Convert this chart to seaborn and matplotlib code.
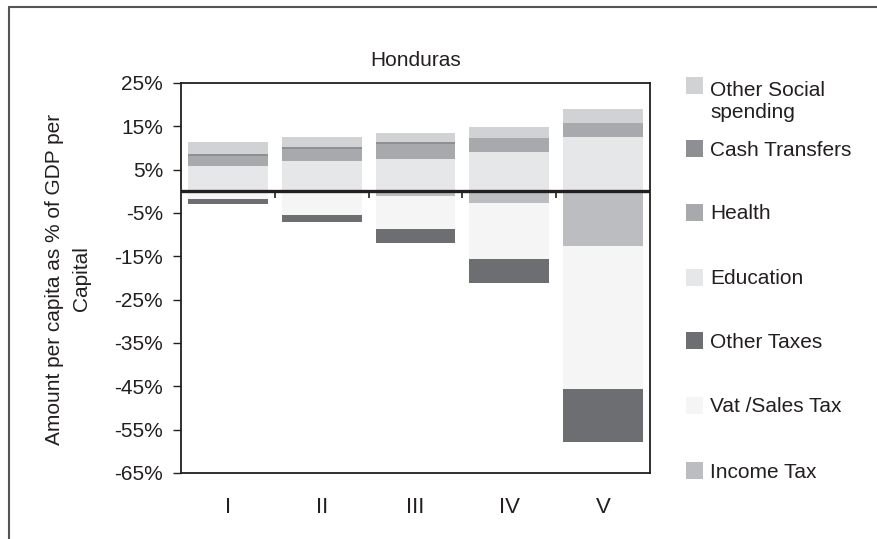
import numpy as np
import pandas as pd
import matplotlib
matplotlib.use("Agg")
import matplotlib.pyplot as plt
import seaborn as sns
from matplotlib.patches import Rectangle
from matplotlib.lines import Line2D

# ---- data (percent of GDP per capita) ----
categories = ["I", "II", "III", "IV", "V"]
education = [5.9, 6.9, 7.4, 9.0, 12.5]
health = [2.2, 2.85, 3.45, 3.2, 3.2]
cash_transfers = [0.45, 0.4, 0.45, 0.0, 0.0]
other_social = [2.8, 2.3, 2.1, 2.55, 3.2]
income_tax = [0.0, -0.3, -1.15, -2.8, -12.5]
vat_sales = [-1.85, -5.1, -7.6, -12.9, -33.0]
other_taxes = [-1.15, -1.6, -3.2, -5.5, -12.4]
yticks = list(range(-65, 26, 10))

colors = {
    "Other Social\nspending": "#d1d2d4",
    "Cash Transfers": "#8e8f92",
    "Health": "#a8a9ac",
    "Education": "#e6e7e8",
    "Other Taxes": "#6d6e71",
    "Vat /Sales Tax": "#f5f5f5",
    "Income Tax": "#bcbdc0",
}

sns.set_theme(style="white")
plt.rcParams["font.family"] = ["Liberation Sans", "DejaVu Sans"]
FS = 15

W, H = 878, 539
fig = plt.figure(figsize=(W / 100, H / 100), dpi=100)
ax = fig.add_axes([181 / W, 1 - 473 / H, (650 - 181) / W, (473 - 83) / H])

df = pd.DataFrame({
    "cat": categories,
    "Education": education,
    "Health": health,
    "Cash Transfers": cash_transfers,
    "Other Social\nspending": other_social,
    "Income Tax": income_tax,
    "Vat /Sales Tax": vat_sales,
    "Other Taxes": other_taxes,
})

pos_layers = ["Education", "Health", "Cash Transfers", "Other Social\nspending"]
neg_layers = ["Income Tax", "Vat /Sales Tax", "Other Taxes"]

bottom = np.zeros(len(categories))
for name in pos_layers:
    sns.barplot(data=df, x="cat", y=name, bottom=bottom, color=colors[name],
                saturation=1, width=0.85, errorbar=None, linewidth=0, ax=ax)
    bottom = bottom + df[name].to_numpy()

bottom = np.zeros(len(categories))
for name in neg_layers:
    sns.barplot(data=df, x="cat", y=name, bottom=bottom, color=colors[name],
                saturation=1, width=0.85, errorbar=None, linewidth=0, ax=ax)
    bottom = bottom + df[name].to_numpy()

ax.set_ylim(-65, 25)
ax.set_xlim(-0.5, len(categories) - 0.5)
ax.set_yticks(yticks)
ax.set_yticklabels([f"{v}%" for v in yticks])
ax.set_xlabel("")
ax.set_ylabel("")
ax.tick_params(axis="y", left=True, length=6, width=1, color="#231f20",
               pad=7, labelsize=FS, labelcolor="#231f20")
ax.tick_params(axis="x", bottom=False, length=0, pad=17, labelsize=FS + 1,
               labelcolor="#231f20")
for sp in ax.spines.values():
    sp.set_visible(True)
    sp.set_color("#231f20")
    sp.set_linewidth(1.3)

# zero line with category-boundary ticks
ax.axhline(0, color="#231f20", lw=2.4, zorder=5)
sec = ax.secondary_xaxis(0, transform=ax.transData)
sec.set_xticks([0.5, 1.5, 2.5, 3.5])
sec.set_xticklabels([])
sec.tick_params(length=5, width=1.2, color="#231f20", direction="out")
for sp in sec.spines.values():
    sp.set_visible(False)

ax.set_title("Honduras", fontsize=FS, color="#231f20", pad=12)

fig.text(68 / W, 1 - 279 / H, "Amount per capita as % of GDP per\nCapital",
         rotation=90, ha="center", va="center", multialignment="center",
         fontsize=FS, color="#231f20", linespacing=1.55)

# legend (manual to match layout)
legend_order = ["Other Social\nspending", "Cash Transfers", "Health", "Education",
                "Other Taxes", "Vat /Sales Tax", "Income Tax"]
centers = [85, 148, 212, 277, 340, 405, 470]
line_px = 1.2 * FS * 100 / 72
for name, cy in zip(legend_order, centers):
    fig.patches.append(Rectangle((686 / W, 1 - (cy + 8.5) / H), 17 / W, 17 / H,
                                 transform=fig.transFigure, facecolor=colors[name],
                                 edgecolor="none"))
    extra = (name.count("\n")) * line_px
    fig.text(710 / W, 1 - (cy + 7.5 + extra) / H, name, ha="left", va="baseline",
             fontsize=FS, color="#231f20", linespacing=1.2)

# outer frame (top and left)
fig.add_artist(Line2D([9 / W, 1], [1 - 7 / H, 1 - 7 / H], transform=fig.transFigure,
                      color="#555555", lw=1.5))
fig.add_artist(Line2D([9 / W, 9 / W], [0, 1 - 7 / H], transform=fig.transFigure,
                      color="#555555", lw=1.5))

fig.savefig("out.png", dpi=100)
